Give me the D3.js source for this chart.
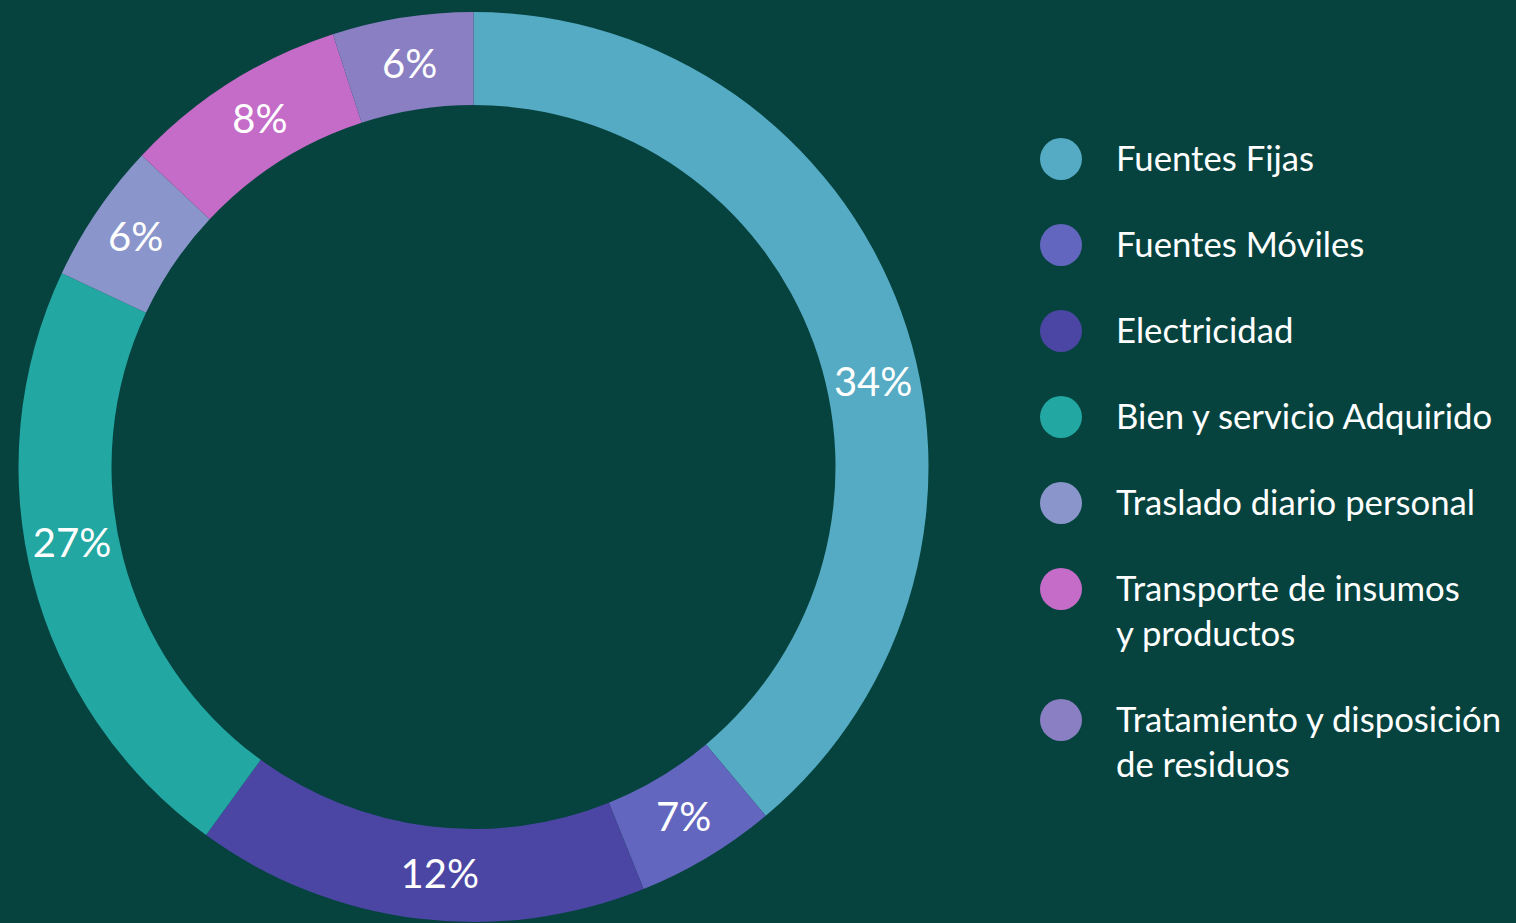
<html>
<head>
<meta charset="UTF-8" />
<style>
body{margin:0;background:#06433f;overflow:hidden;}
</style>
</head>
<body>
<script src="https://d3js.org/d3.v7.min.js" charset="utf-8"></script>
<script>
var width = 1516;
var height = 923;

// categorias y valores (tamaño de cada arco)
var categories = ["Fuentes Fijas","Fuentes Móviles","Electricidad","Bien y servicio Adquirido","Traslado diario personal","Transporte de insumos y productos","Tratamiento y disposición de residuos"];
var values = [38.9, 5, 16.1, 22, 5, 8, 5];
var pctLabels = ["34%","7%","12%","27%","6%","8%","6%"];
var legendLines = [["Fuentes Fijas"],["Fuentes Móviles"],["Electricidad"],["Bien y servicio Adquirido"],["Traslado diario personal"],["Transporte de insumos","y productos"],["Tratamiento y disposición","de residuos"]];
var colors = ["#55abc3","#6366be","#4b46a4","#22a7a3","#8a96cb","#c56cc9","#8a7fc3"];

var svg = d3.select("body")
			.append("svg")
			.attr("width",width)
			.attr("height",height);

svg.append("rect")
   .attr("width",width)
   .attr("height",height)
   .attr("fill","#06433f");

var cx = 473.5, cy = 467;
var outerR = 455, innerR = 362;

var colorscale = d3.scaleOrdinal().domain(categories).range(colors);

var pie = d3.pie().sort(null).value(d => d.value);
var arc = d3.arc().innerRadius(innerR).outerRadius(outerR);

var data = categories.map((c,i) => ({cat:c, value:values[i], label:pctLabels[i]}));
var arcs = pie(data);

var g = svg.append("g")
		   .attr("transform","translate(" + cx + "," + cy + ")");

g.selectAll("path")
 .data(arcs)
 .enter()
 .append("path")
 .attr("d",arc)
 .attr("fill",d => colorscale(d.data.cat));

// las etiquetas del original no estan justo en el centro del arco
var nudge = [0.14,0,-0.04,0.065,0,0.015,0];
var midR = (innerR + outerR) / 2;

g.selectAll("text")
 .data(arcs)
 .enter()
 .append("text")
 .attr("x",(d,i) => midR * Math.sin((d.startAngle + d.endAngle)/2 + nudge[i]))
 .attr("y",(d,i) => -midR * Math.cos((d.startAngle + d.endAngle)/2 + nudge[i]))
 .attr("dy","0.35em")
 .attr("text-anchor","middle")
 .attr("fill","#fff")
 .attr("font-family","Lato, sans-serif")
 .attr("font-size",40)
 .text(d => d.data.label);

// leyenda
var legend = svg.append("g")
				.attr("transform","translate(1061,159)");

var y = 0;
legendLines.forEach(function(lines,i){
	var item = legend.append("g")
					 .attr("transform","translate(0," + y + ")");
	item.append("circle")
		.attr("r",21)
		.attr("fill",colorscale(categories[i]));
	lines.forEach(function(t,j){
		item.append("text")
			.attr("x",55)
			.attr("y",12 + j*45)
			.attr("fill","#fff")
			.attr("font-family","Lato, sans-serif")
			.attr("font-size",34.7)
			.text(t);
	});
	y += 86 + (lines.length - 1) * 45;
});
</script>
</body>
</html>
